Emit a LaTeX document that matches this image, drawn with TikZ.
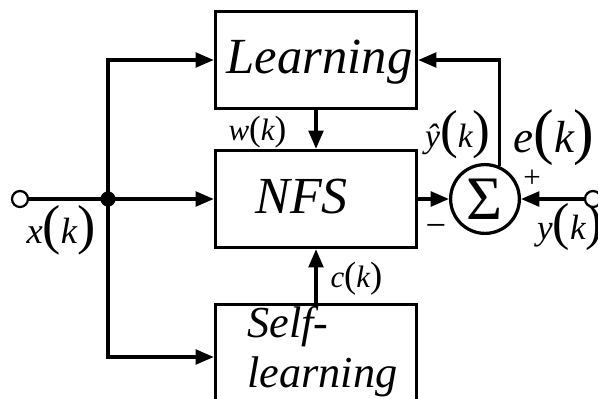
\documentclass[tikz,border=0pt]{standalone}
\usepackage{fontspec}
\setmainfont{Liberation Serif}
\usetikzlibrary{shapes,arrows.meta,positioning,calc}

\newcommand{\argof}[4]{{\fontsize{#1}{#1}\selectfont\itshape #3}{\fontsize{#2}{#2}\selectfont(}{\fontsize{#1}{#1}\selectfont\itshape #4}{\fontsize{#2}{#2}\selectfont)}}

\begin{document}
\begin{tikzpicture}[
    blockbox/.style={rectangle, draw, line width=2.3pt, minimum width=5.03cm, minimum height=#1, inner sep=0pt},
    blocktxt/.style={font=\fontsize{#1}{#1}\selectfont\itshape, inner sep=0pt, anchor=base},
    sumnode/.style={circle, draw, line width=2.3pt, minimum size=1.72cm, inner sep=0pt},
    term/.style={circle, draw, fill=white, line width=1.6pt, minimum size=0.4cm, inner sep=0pt},
    siglbl/.style={inner sep=0pt, anchor=base},
    sigarr/.style={-{Triangle[length=13pt,width=10.5pt]}, line width=2.3pt}
]
\useasboundingbox (-7.9,-4.975) rectangle (7.05,4.975);

% Blocks
\node[blockbox=2.43cm] (learn) at (0,3.475) {};
\node[blocktxt=36] at (0.09,3.15) {Learning};
\node[blockbox=2.43cm] (nfs) at (0,0) {};
\node[blocktxt=37] at (-0.36,-0.35) {NFS};
\node[blockbox=2.62cm] (self) at (0,-3.95) {};
\node[font=\fontsize{31.5}{35.6}\selectfont\itshape, inner sep=0pt, align=left, anchor=west] at (-1.725,-3.825) {Self-\\learning};

% Summing point and terminals
\node[sumnode] (sum) at (4.225,0) {};
\node[font=\fontsize{44}{44}\selectfont, inner sep=0pt] at (4.225,0) {Σ};
\node[term] (xin) at (-7.4,0) {};
\node[term] (yin) at (6.925,0) {};
\fill (-5.2,0) circle (0.19) coordinate (split);

% Signal flow
\draw[line width=2.3pt] (xin) -- (split);
\draw[sigarr] (split) -- (nfs.west);
\draw[sigarr] (split) |- (learn.west);
\draw[sigarr] (split) |- (self.west);
\draw[sigarr] (learn.south) -- (nfs.north);
\draw[sigarr] (self.north) -- (nfs.south);
\draw[sigarr] (nfs.east) -- (sum.west);
\draw[sigarr] (yin) -- (sum.east);
\draw[sigarr] (sum.66) |- (learn.east);

% Signal labels
\node[siglbl] at (-1.465,1.475) {\argof{22}{25}{w}{k}};
\node[siglbl] at (1.01,-2.2) {\argof{22}{26}{c}{k}};
\node[siglbl] at (3.55,1.3) {\argof{24}{38}{ŷ}{k}};
\node[siglbl] at (5.95,1.175) {\argof{32}{44}{e}{k}};
\node[siglbl] at (-6.375,-1.1) {\argof{26}{39}{x}{k}};
\node[siglbl] at (6.35,-1.0) {\argof{25}{37}{y}{k}};
\node[font=\fontsize{26}{26}\selectfont, inner sep=0pt] at (3.0,-0.8) {−};
\node[font=\fontsize{22}{22}\selectfont, inner sep=0pt] at (5.4,0.5) {+};
\end{tikzpicture}
\end{document}
